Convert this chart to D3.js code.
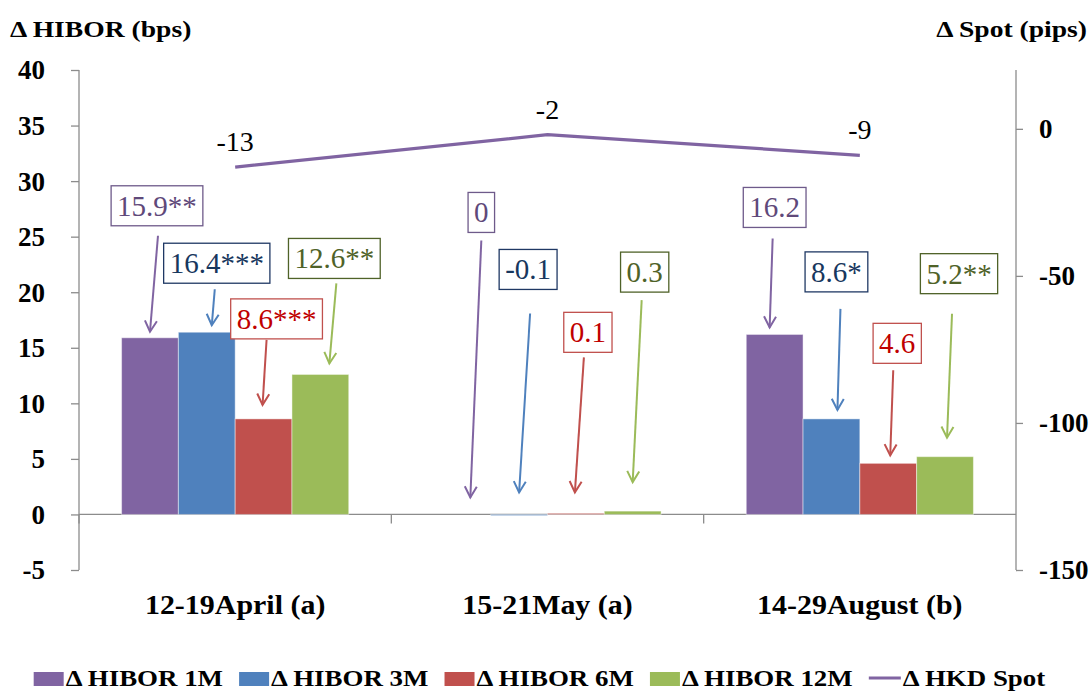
<!DOCTYPE html>
<html>
<head>
<meta charset="utf-8">
<script src="https://cdn.jsdelivr.net/npm/d3@7"></script>
<style>
  html, body { margin: 0; padding: 0; background: #fff; }
  svg { display: block; }
  text { font-family: "Liberation Serif", "Times New Roman", serif; }
</style>
</head>
<body>
<svg id="chart" width="1091" height="691"></svg>
<script>
// ---------------- data ----------------
const categories = ["12-19April (a)", "15-21May (a)", "14-29August (b)"];
const seriesNames = ["\u0394 HIBOR 1M", "\u0394 HIBOR 3M", "\u0394 HIBOR 6M", "\u0394 HIBOR 12M"];
const hibor1M  = [15.9, 0, 16.2];
const hibor3M  = [16.4, -0.1, 8.6];
const hibor6M  = [8.6, 0.1, 4.6];
const hibor12M = [12.6, 0.3, 5.2];
const significance1M  = ["**", "", ""];
const significance3M  = ["***", "", "*"];
const significance6M  = ["***", "", ""];
const significance12M = ["**", "", "**"];
const spotName = "\u0394 HKD Spot";
const hkdSpot = [-13, -2, -9];
const leftTicks = [-5, 0, 5, 10, 15, 20, 25, 30, 35, 40];
const rightTicks = [-150, -100, -50, 0];
const leftTitle = "\u0394 HIBOR (bps)";
const rightTitle = "\u0394 Spot (pips)";

// ---------------- styles ----------------
const barColors = ["#8064A2", "#4F81BD", "#C0504D", "#9BBB59"];
const calloutText = ["#5F497A", "#17375E", "#C00000", "#4F6228"];
const calloutBorder = ["#6E5A8A", "#1F3864", "#C0504D", "#4F6228"];
const lineColor = "#8064A2";
const axisColor = "#8C8C8C";

// callout layout offsets relative to each bar's top-centre (pixels):
// [boxDx, boxDy, arrowStartDx, arrowStartDy, arrowTipDx, arrowTipDy]
const calloutLayout = [
  [[7, -132, 8, -102, 0, -6], [10, -69, 8, -43, 5, -7], [13, -100, 3, -79, -1, -14], [14, -116, 16, -91, 9, -11]],
  [[19, -302, 19, -274, 8, -17], [9, -245, 11, -201, 0, -22], [12, -181, 8, -156, -1, -21], [12, -239, 9, -211, 0, -29]],
  [[0, -127, -2, -96, -5, -7], [5, -147, 9, -110, 6, -9], [9, -120, 5, -93, 2, -8], [14, -183, 7, -143, 2, -19]]
];

// ---------------- setup ----------------
const seriesValues = [hibor1M, hibor3M, hibor6M, hibor12M];
const seriesStars = [significance1M, significance3M, significance6M, significance12M];
const svg = d3.select("#chart");
const plot = { left: 79, right: 1016, top: 70, bottom: 570 };

function hstretch(sel, sx) {
  sel.each(function () {
    const t = d3.select(this);
    const x = +t.attr("x") || 0, yy = +t.attr("y") || 0;
    t.attr("x", 0).attr("y", 0).attr("transform", `translate(${x},${yy}) scale(${sx},1)`);
  });
}

const y = d3.scaleLinear().domain([-5, 40]).range([plot.bottom, plot.top]);
const yR = d3.scaleLinear().domain([-150, 20]).range([plot.bottom, plot.top]);
const x0 = d3.scaleBand().domain(categories).range([plot.left, plot.right])
  .paddingInner(1.5 / 5.5).paddingOuter(0.75 / 5.5);
const x1 = d3.scaleBand().domain(d3.range(4)).range([0, x0.bandwidth()]);
const xc = d3.scalePoint().domain(categories).range([plot.left, plot.right]).padding(0.5);

// ---------------- axes ----------------
const plainFmt = d => String(d);
const gL = svg.append("g").attr("transform", `translate(${plot.left},0)`)
  .call(d3.axisLeft(y).tickValues(leftTicks).tickSize(8).tickPadding(26).tickFormat(plainFmt));
const gR = svg.append("g").attr("transform", `translate(${plot.right},0)`)
  .call(d3.axisRight(yR).tickValues(rightTicks).tickSize(7).tickPadding(16).tickFormat(plainFmt));
[gL, gR].forEach(g => {
  g.select(".domain").attr("stroke", axisColor).attr("stroke-width", 1.3).attr("d", `M0,${plot.top}V${plot.bottom}`);
  g.selectAll(".tick line").attr("stroke", axisColor).attr("stroke-width", 1.3);
  g.selectAll(".tick text").attr("fill", "#000").attr("font-size", 27).attr("font-weight", "bold")
    .attr("font-family", "Liberation Serif").attr("dy", "0.33em");
});

// x axis at zero
const zeroY = y(0);
const boundaries = categories.map(c => x0(c) - x0.step() * x0.paddingOuter());
svg.append("line").attr("x1", plot.left).attr("x2", plot.right).attr("y1", zeroY).attr("y2", zeroY)
  .attr("stroke", axisColor).attr("stroke-width", 1.3);
svg.append("g").selectAll("line").data(boundaries).join("line")
  .attr("x1", d => d).attr("x2", d => d).attr("y1", zeroY).attr("y2", zeroY + 9)
  .attr("stroke", axisColor).attr("stroke-width", 1.3);

// category labels
hstretch(svg.append("g").selectAll("text").data(categories).join("text")
  .attr("x", d => xc(d)).attr("y", 614).attr("text-anchor", "middle")
  .attr("font-size", 28).attr("font-weight", "bold").text(d => d), 1.07);

// axis titles
hstretch(svg.append("text").attr("x", 10).attr("y", 37).attr("font-size", 23).attr("font-weight", "bold").text(leftTitle), 1.2);
hstretch(svg.append("text").attr("x", 1087).attr("y", 37).attr("text-anchor", "end").attr("font-size", 23).attr("font-weight", "bold").text(rightTitle), 1.2);

// ---------------- bars ----------------
const groups = svg.append("g").selectAll("g").data(categories).join("g")
  .attr("transform", c => `translate(${x0(c)},0)`);
groups.selectAll("rect").data((c, ci) => seriesValues.map((s, si) => ({ si, ci, v: s[ci] }))).join("rect")
  .attr("x", d => x1(d.si)).attr("width", x1.bandwidth())
  .attr("y", d => y(Math.max(0, d.v))).attr("height", d => Math.abs(y(d.v) - y(0)))
  .attr("fill", d => barColors[d.si])
  .attr("stroke", "rgba(255,255,255,0.45)").attr("stroke-width", 1);

// ---------------- spot line ----------------
svg.append("path").datum(hkdSpot)
  .attr("d", d3.line().x((d, i) => xc(categories[i])).y(d => yR(d)))
  .attr("fill", "none").attr("stroke", lineColor).attr("stroke-width", 3.2);
svg.append("g").selectAll("text").data(hkdSpot).join("text")
  .attr("x", (d, i) => xc(categories[i])).attr("y", d => yR(d) - 16)
  .attr("text-anchor", "middle").attr("font-size", 28).text(d => String(d));

// ---------------- callouts ----------------
const defs = svg.append("defs");
barColors.forEach((c, i) => {
  defs.append("marker").attr("id", "arr" + i).attr("viewBox", "-13 -8 16 16")
    .attr("refX", 0).attr("refY", 0).attr("markerWidth", 16).attr("markerHeight", 16)
    .attr("markerUnits", "userSpaceOnUse").attr("orient", "auto")
    .append("path").attr("d", "M-11,-6 L0,0 L-11,6").attr("fill", "none")
    .attr("stroke", c).attr("stroke-width", 2);
});

const cg = svg.append("g");
categories.forEach((c, ci) => {
  seriesValues.forEach((s, si) => {
    const v = s[ci];
    const bx = x0(c) + x1(si) + x1.bandwidth() / 2;
    const by = y(Math.max(0, v));
    const L = calloutLayout[ci][si];
    cg.append("line")
      .attr("x1", bx + L[2]).attr("y1", by + L[3]).attr("x2", bx + L[4]).attr("y2", by + L[5])
      .attr("stroke", barColors[si]).attr("stroke-width", 2)
      .attr("marker-end", `url(#arr${si})`);
    const g = cg.append("g").attr("transform", `translate(${bx + L[0]},${by + L[1]})`);
    const rect = g.append("rect").attr("fill", "#fff").attr("stroke", calloutBorder[si]).attr("stroke-width", 1.3);
    const t = g.append("text").attr("text-anchor", "middle").attr("y", 10)
      .attr("font-size", 29).attr("fill", calloutText[si])
      .text(String(v) + seriesStars[si][ci]);
    const w = t.node().getComputedTextLength() + 12;
    rect.attr("x", -w / 2).attr("y", -20).attr("width", w).attr("height", 40);
  });
});

// ---------------- legend ----------------
const legendSx = 1.17;
const lg = svg.append("g");
const items = seriesNames.map((n, i) => ({ name: n, type: "rect", color: barColors[i] }))
  .concat([{ name: spotName, type: "line", color: lineColor }]);
let lx = 0;
items.forEach(it => {
  const g = lg.append("g").attr("transform", `translate(${lx},0)`);
  if (it.type === "rect") g.append("rect").attr("x", 0).attr("y", 672).attr("width", 30).attr("height", 14).attr("fill", it.color);
  else g.append("line").attr("x1", 0).attr("x2", 32).attr("y1", 678).attr("y2", 678).attr("stroke", it.color).attr("stroke-width", 3.2);
  const t = g.append("text").attr("x", it.type === "rect" ? 32 : 34).attr("y", 686).attr("font-size", 23).attr("font-weight", "bold").text(it.name);
  const tw = t.node().getComputedTextLength() * legendSx;
  hstretch(t, legendSx);
  lx += (it.type === "rect" ? 32 : 34) + tw + 16;
});
const totalW = lx - 16;
lg.attr("transform", `translate(${539.5 - totalW / 2},0)`);
</script>
</body>
</html>
